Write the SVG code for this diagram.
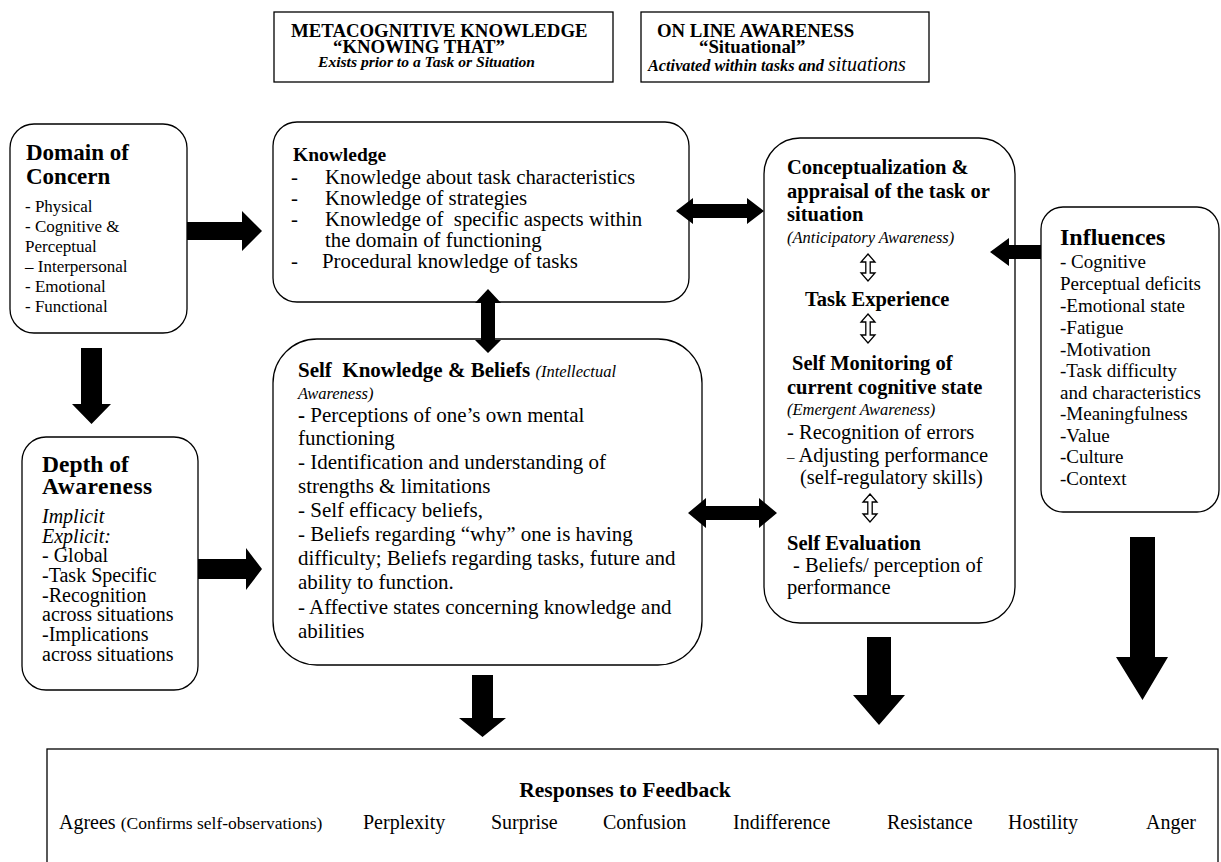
<svg xmlns="http://www.w3.org/2000/svg" width="1221" height="862" viewBox="0 0 1221 862">
<style>
text{font-family:"Liberation Serif","Times New Roman",serif;fill:#000}
.b{font-weight:bold}
.i{font-style:italic}
.box{fill:#fff;stroke:#000;stroke-width:1.3}
.arr{fill:#000;stroke:none}
.harr{fill:#fff;stroke:#000;stroke-width:1.3}
</style>
<rect width="1221" height="862" fill="#fff"/>

<g id="header-metacognitive">
<rect class="box" x="274" y="12" width="339" height="70"/>
<text class="b" x="291" y="37" font-size="18.8">METACOGNITIVE KNOWLEDGE</text>
<text class="b" x="333" y="53" font-size="18.8">“KNOWING THAT”</text>
<text class="b i" x="318" y="67" font-size="15.6">Exists prior to a Task or Situation</text>
</g>

<g id="header-online">
<rect class="box" x="641" y="12" width="288" height="70"/>
<text class="b" x="657" y="37" font-size="18.8">ON LINE AWARENESS</text>
<text class="b" x="699" y="53" font-size="18.8">“Situational”</text>
<text x="648" y="71" font-size="16.3"><tspan class="b i">Activated within tasks and </tspan><tspan class="i" font-size="20">situations</tspan></text>
</g>

<g id="domain">
<rect class="box" x="10" y="124" width="177" height="209" rx="24"/>
<text class="b" x="26" y="160" font-size="23">Domain of</text>
<text class="b" x="26" y="184" font-size="23">Concern</text>
<g font-size="17">
<text x="25" y="212">- Physical</text>
<text x="25" y="232">- Cognitive &amp;</text>
<text x="25" y="252">Perceptual</text>
<text x="25" y="272">– Interpersonal</text>
<text x="25" y="292">- Emotional</text>
<text x="25" y="312">- Functional</text>
</g>
</g>

<g id="depth">
<rect class="box" x="22" y="437" width="176" height="253" rx="24"/>
<text class="b" x="42" y="472" font-size="23.5">Depth of</text>
<text class="b" x="42" y="494" font-size="23.5" letter-spacing="0.5">Awareness</text>
<g font-size="20">
<text class="i" x="42" y="523">Implicit</text>
<text class="i" x="42" y="543">Explicit:</text>
<text x="42" y="562">- Global</text>
<text x="42" y="582">-Task Specific</text>
<text x="42" y="602">-Recognition</text>
<text x="42" y="621">across situations</text>
<text x="42" y="641">-Implications</text>
<text x="42" y="661">across situations</text>
</g>
</g>

<g id="knowledge">
<rect class="box" x="273" y="122" width="416" height="180" rx="24"/>
<text class="b" x="293" y="161" font-size="19.5">Knowledge</text>
<g font-size="20.8">
<text x="291" y="184">-</text><text x="325" y="184">Knowledge about task characteristics</text>
<text x="291" y="205">-</text><text x="325" y="205">Knowledge of strategies</text>
<text x="291" y="226">-</text><text x="325" y="226" xml:space="preserve">Knowledge of  specific aspects within</text>
<text x="325" y="247">the domain of functioning</text>
<text x="291" y="268">-</text><text x="322" y="268">Procedural knowledge of tasks</text>
</g>
</g>

<g id="self-knowledge">
<rect class="box" x="273" y="339" width="429" height="326" rx="44"/>
<text x="298" y="377"><tspan class="b" font-size="21">Self&#160; Knowledge &amp; Beliefs </tspan><tspan class="i" font-size="16.5">(Intellectual</tspan></text>
<text class="i" x="298" y="399" font-size="16.5">Awareness)</text>
<g font-size="21">
<text x="298" y="422"><tspan class="b">-</tspan> Perceptions of one’s own mental</text>
<text x="298" y="445">functioning</text>
<text x="298" y="469">- Identification and understanding of</text>
<text x="298" y="493">strengths &amp; limitations</text>
<text x="298" y="517">- Self efficacy beliefs,</text>
<text x="298" y="541">- Beliefs regarding “why” one is having</text>
<text x="298" y="565">difficulty; Beliefs regarding tasks, future and</text>
<text x="298" y="589">ability to function.</text>
<text x="298" y="614">- Affective states concerning knowledge and</text>
<text x="298" y="638">abilities</text>
</g>
</g>

<g id="online-awareness">
<rect class="box" x="764" y="138" width="251" height="485" rx="36"/>
<g class="b" font-size="20.5">
<text x="787" y="174">Conceptualization &amp;</text>
<text x="787" y="198">appraisal of the task or</text>
<text x="787" y="221">situation</text>
<text x="805" y="306">Task Experience</text>
<text x="792" y="370">Self Monitoring of</text>
<text x="787" y="394">current cognitive state</text>
<text x="787" y="550">Self Evaluation</text>
</g>
<text class="i" x="787" y="243" font-size="16.5">(Anticipatory Awareness)</text>
<text class="i" x="787" y="415" font-size="16.5">(Emergent Awareness)</text>
<g font-size="20.5">
<text x="787" y="439">- Recognition of errors</text>
<text x="787" y="462"><tspan font-size="15">–</tspan> Adjusting performance</text>
<text x="800" y="484">(self-regulatory skills)</text>
<text x="793" y="572">- Beliefs/ perception of</text>
<text x="787" y="594">performance</text>
</g>
<path class="harr" d="M868,254 L875,262 L870.2,262 L870.2,273 L875,273 L868,281 L861,273 L865.8,273 L865.8,262 L861,262 Z"/>
<path class="harr" d="M868,314 L875,322 L870.2,322 L870.2,335 L875,335 L868,343 L861,335 L865.8,335 L865.8,322 L861,322 Z"/>
<path class="harr" d="M870,494 L877,502 L872.2,502 L872.2,514 L877,514 L870,522 L863,514 L867.8,514 L867.8,502 L863,502 Z"/>
</g>

<g id="influences">
<rect class="box" x="1041" y="207" width="178" height="305" rx="22"/>
<text class="b" x="1060" y="245" font-size="24">Influences</text>
<g font-size="19">
<text x="1060" y="268">- Cognitive</text>
<text x="1060" y="290">Perceptual deficits</text>
<text x="1060" y="312">-Emotional state</text>
<text x="1060" y="334">-Fatigue</text>
<text x="1060" y="356">-Motivation</text>
<text x="1060" y="377">-Task difficulty</text>
<text x="1060" y="399">and characteristics</text>
<text x="1060" y="420">-Meaningfulness</text>
<text x="1060" y="442">-Value</text>
<text x="1060" y="463">-Culture</text>
<text x="1060" y="485">-Context</text>
</g>
</g>

<g id="responses">
<rect class="box" x="47" y="749" width="1171" height="150"/>
<text class="b" x="625" y="797" font-size="21.5" text-anchor="middle">Responses to Feedback</text>
<g font-size="20">
<text x="59" y="829">Agrees <tspan font-size="17.5">(Confirms self-observations)</tspan></text>
<text x="363" y="829">Perplexity</text>
<text x="491" y="829">Surprise</text>
<text x="603" y="829">Confusion</text>
<text x="733" y="829">Indifference</text>
<text x="887" y="829">Resistance</text>
<text x="1008" y="829">Hostility</text>
<text x="1146" y="829">Anger</text>
</g>
</g>

<g id="connectors">
<path class="arr" d="M187,222 L242,222 L242,211 L262,231 L242,251 L242,240 L187,240 Z"/>
<path class="arr" d="M81,348 L102,348 L102,404 L111,404 L91.5,424 L72,404 L81,404 Z"/>
<path class="arr" d="M198,559 L246,559 L246,548 L262,569 L246,590 L246,579 L198,579 Z"/>
<path class="arr" d="M676,211 L693,198 L693,204 L747,204 L747,198 L764,211 L747,224 L747,218 L693,218 L693,224 Z"/>
<path class="arr" d="M688,513 L706,498 L706,506 L759,506 L759,498 L777,513 L759,528 L759,520 L706,520 L706,528 Z"/>
<path class="arr" d="M488,289 L501,303 L495,303 L495,340 L501,340 L488,353 L475,340 L481,340 L481,303 L475,303 Z"/>
<path class="arr" d="M990,252 L1009,238 L1009,245 L1041,245 L1041,259 L1009,259 L1009,266 Z"/>
<path class="arr" d="M472,675 L493,675 L493,718 L506,718 L482.5,737 L459,718 L472,718 Z"/>
<path class="arr" d="M867,637 L891,637 L891,695 L905,695 L879,725 L853,695 L867,695 Z"/>
<path class="arr" d="M1130,537 L1155,537 L1155,657 L1168,657 L1142.5,700 L1116,657 L1130,657 Z"/>
</g>
</svg>
